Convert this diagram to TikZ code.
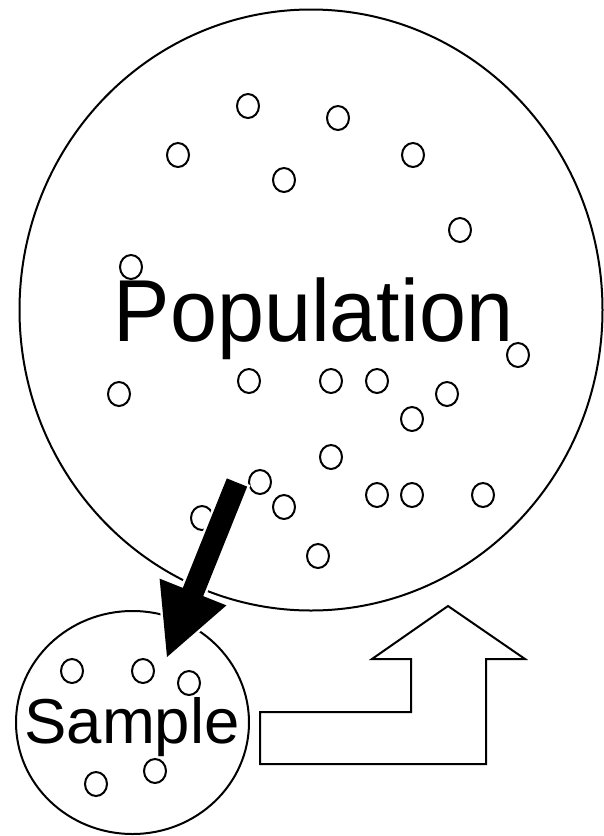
\documentclass[tikz,border=0pt]{standalone}
\usepackage{fontspec}
\setmainfont{Liberation Sans}
\usetikzlibrary{shapes.geometric}
\begin{document}
\begin{tikzpicture}[x=1pt,y=-1pt,
  dot/.style={draw=black,ellipse,line width=2pt,minimum width=22pt,minimum height=24pt,inner sep=0pt},
  bigcirc/.style={draw=black,ellipse,line width=2pt,inner sep=0pt},
  label/.style={inner sep=0pt,anchor=base}]
\useasboundingbox[fill=white] (0,0) rectangle (603,836);
% population circle
\node[bigcirc,minimum width=583pt,minimum height=601pt] (pop) at (311,310) {};
% sample circle
\node[bigcirc,minimum width=233pt,minimum height=223pt] (samp) at (132.5,722.5) {};
% population dots
\foreach \n/\x/\y in {p1/248/106,p2/338/118,p3/178/155,p4/413/155,p5/284/180,p6/460/230,
  p7/131/267,p8/518/355,p9/119/394,p10/249/381,p11/331/381,p12/377/381,p13/447/394,
  p14/412/419,p15/331/457,p16/260/482,p17/284/507,p18/377/495,p19/412/495,p20/483/495,
  p21/202/518,p22/318/556}
  \node[dot] (\n) at (\x,\y) {};
% sample dots
\foreach \n/\x/\y in {s1/72/671,s2/143/671,s3/189/683,s4/96/784,s5/155/771}
  \node[dot] (\n) at (\x,\y) {};
% texts
\node[label,font=\fontsize{88}{92}\selectfont,xscale=0.96] (poptext) at (313.5,341) {Population};
\node[label,font=\fontsize{63.5}{66}\selectfont] (samptext) at (132,743) {Sample};
% block arrow population -> sample
\coordinate (a1) at (226.8,478.4);
\coordinate (a2) at (247.2,486.6);
\coordinate (a3) at (203.2,596.1);
\coordinate (a4) at (226.4,605.4);
\coordinate (a5) at (167,657);
\coordinate (a6) at (159.6,578.6);
\coordinate (a7) at (182.8,587.9);
\draw[white,line width=5pt,line join=miter] (a1) -- (a2) -- (a3) -- (a4) -- (a5) -- (a6) -- (a7) -- cycle;
\fill[black] (a1) -- (a2) -- (a3) -- (a4) -- (a5) -- (a6) -- (a7) -- cycle;
% bent arrow sample -> population
\coordinate (b1) at (260,712);
\coordinate (b2) at (411,712);
\coordinate (b3) at (411,659);
\coordinate (b4) at (372,659);
\coordinate (b5) at (448,606);
\coordinate (b6) at (525,659);
\coordinate (b7) at (486,659);
\coordinate (b8) at (486,764);
\coordinate (b9) at (260,764);
\draw[black,line width=2pt,line join=miter] (b1) -- (b2) -- (b3) -- (b4) -- (b5) -- (b6) -- (b7) -- (b8) -- (b9) -- cycle;
\end{tikzpicture}
\end{document}
